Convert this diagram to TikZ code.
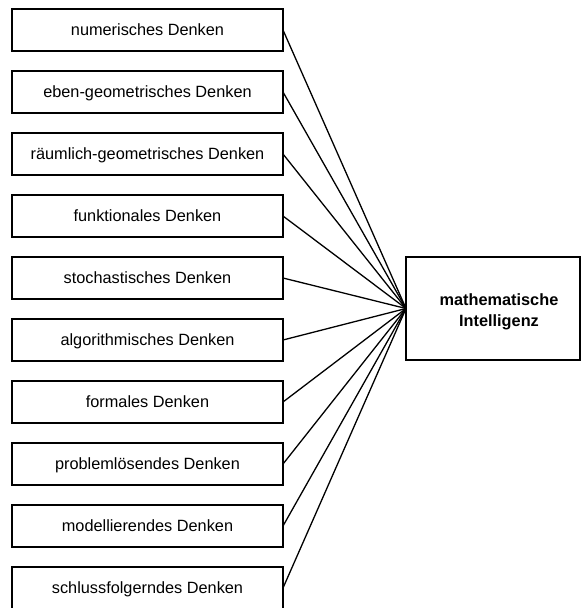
\documentclass[tikz,border=0pt]{standalone}
\usepackage{fontspec}
\setmainfont{Liberation Sans}
\tikzset{
    denkbox/.style = {draw, line width = 1.8pt, minimum width = 271pt, minimum height = 42pt,
                      inner sep = 0pt, outer sep = 0pt, text height = 11.7pt, text depth = 0pt},
    verbind/.style = {line width = 1.3pt}
}
\begin{document}
\begin{tikzpicture}[x = 1pt, y = -1pt, font = \fontsize{16.3}{21}\selectfont]
                    \useasboundingbox (0, 0) rectangle (581, 608);
                    \node[denkbox] (num) at (147.5, 30) {numerisches Denken};
                    \node[denkbox] (eben) at (147.5, 92) {eben-geometrisches Denken};
                    \node[denkbox] (raum) at (147.5, 154) {räumlich-geometrisches Denken};
                    \node[denkbox] (funk) at (147.5, 216) {funktionales Denken};
                    \node[denkbox] (stoch) at (147.5, 278) {stochastisches Denken};
                    \node[denkbox] (algo) at (147.5, 340) {algorithmisches Denken};
                    \node[denkbox] (formal) at (147.5, 402) {formales Denken};
                    \node[denkbox] (problem) at (147.5, 464) {problemlösendes Denken};
                    \node[denkbox] (modell) at (147.5, 526) {modellierendes Denken};
                    \node[denkbox] (schluss) at (147.5, 588) {schlussfolgerndes Denken};
                    \node[draw, line width = 1.8pt, minimum width = 174pt, minimum height = 103pt,
                          inner sep = 0pt, outer sep = 0pt] (intel) at (493, 308.5) {};
                    \node[font = \fontsize{16.3}{21}\selectfont\bfseries, align = center,
                          text depth = 0pt] (inteltext) at (499, 310) {mathematische\\Intelligenz};
                    \draw[verbind] (num.east) -- (intel.west);
                    \draw[verbind] (eben.east) -- (intel.west);
                    \draw[verbind] (raum.east) -- (intel.west);
                    \draw[verbind] (funk.east) -- (intel.west);
                    \draw[verbind] (stoch.east) -- (intel.west);
                    \draw[verbind] (algo.east) -- (intel.west);
                    \draw[verbind] (formal.east) -- (intel.west);
                    \draw[verbind] (problem.east) -- (intel.west);
                    \draw[verbind] (modell.east) -- (intel.west);
                    \draw[verbind] (schluss.east) -- (intel.west);
                \end{tikzpicture}
\end{document}
